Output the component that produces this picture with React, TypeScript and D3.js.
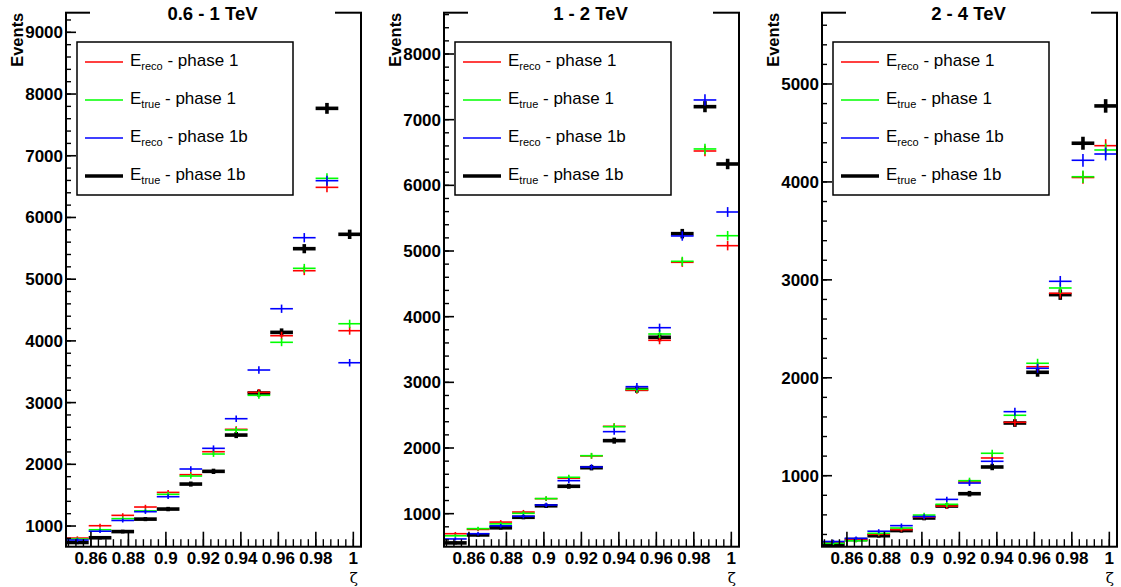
import React from 'react';
import * as d3 from 'd3';

// ---------- data ----------
const panelTitles = ['0.6 - 1 TeV', '1 - 2 TeV', '2 - 4 TeV'];
const xTickLabels = ['0.86', '0.88', '0.9', '0.92', '0.94', '0.96', '0.98', '1'];
const xTickValues = [0.86, 0.88, 0.9, 0.92, 0.94, 0.96, 0.98, 1.0];

// 13 zeta bins per panel
const recoPhase1_A = [805, 1005, 1173, 1308, 1545, 1832, 2204, 2567, 3166, 4084, 5137, 6488, 4165];
const truePhase1_A = [789, 940, 1120, 1245, 1514, 1810, 2167, 2556, 3118, 3977, 5176, 6634, 4278];
const recoPhase1b_A = [773, 916, 1090, 1232, 1475, 1924, 2259, 2739, 3528, 4521, 5672, 6596, 3646];
const truePhase1b_A = [733, 810, 910, 1112, 1275, 1680, 1886, 2474, 3155, 4138, 5494, 7768, 5727];

const recoPhase1_B = [695, 760, 872, 1025, 1228, 1540, 1879, 2330, 2879, 3640, 4828, 6523, 5081];
const truePhase1_B = [663, 772, 845, 1005, 1230, 1554, 1883, 2325, 2894, 3736, 4843, 6554, 5233];
const recoPhase1b_B = [615, 695, 815, 960, 1132, 1503, 1711, 2249, 2934, 3832, 5229, 7300, 5594];
const truePhase1b_B = [555, 676, 785, 945, 1120, 1417, 1700, 2112, 2894, 3686, 5264, 7198, 6325];

const recoPhase1_C = [320, 345, 402, 449, 578, 690, 936, 1181, 1545, 2113, 2863, 4045, 4370];
const truePhase1_C = [310, 336, 412, 466, 598, 708, 949, 1229, 1617, 2148, 2917, 4053, 4326];
const recoPhase1b_C = [328, 360, 433, 490, 583, 758, 925, 1147, 1654, 2097, 2985, 4221, 4285];
const truePhase1b_C = [300, 348, 387, 440, 568, 690, 816, 1089, 1538, 2056, 2849, 4395, 4776];

const yTickMax = [9000, 8000, 5000];

// ---------- layout ----------
const W = 1121;
const H = 587;
const panelLeft = [66, 444, 822];
const panelW = 295;
const plotTop = 12.7;
const plotBottom = 546.7;
const yDomains: [number, number][] = [[665, 9318], [497, 8629], [275, 5728]];
const zetaDomain: [number, number] = [0.8467, 1.0041];
const nBins = 13;

const FONT = '"Liberation Sans", Arial, Helvetica, sans-serif';

type Series = { key: string; sub: string; tail: string; color: string; width: number; values: number[] };

function panelSeries(p: number): Series[] {
  const sets = [
    [recoPhase1_A, truePhase1_A, recoPhase1b_A, truePhase1b_A],
    [recoPhase1_B, truePhase1_B, recoPhase1b_B, truePhase1b_B],
    [recoPhase1_C, truePhase1_C, recoPhase1b_C, truePhase1b_C],
  ][p];
  return [
    { key: 'r1', sub: 'reco', tail: ' - phase 1', color: '#ff0000', width: 1.6, values: sets[0] },
    { key: 't1', sub: 'true', tail: ' - phase 1', color: '#00ff00', width: 1.6, values: sets[1] },
    { key: 'r1b', sub: 'reco', tail: ' - phase 1b', color: '#0000ff', width: 1.6, values: sets[2] },
    { key: 't1b', sub: 'true', tail: ' - phase 1b', color: '#000000', width: 3.6, values: sets[3] },
  ];
}

function Panel({ p }: { p: number }) {
  const x0 = panelLeft[p];
  const x1 = x0 + panelW;
  const x = d3.scaleLinear().domain(zetaDomain).range([x0, x1]);
  const y = d3.scaleLinear().domain(yDomains[p]).range([plotBottom, plotTop]);
  const binW = (zetaDomain[1] - zetaDomain[0]) / nBins;
  const series = panelSeries(p);
  const drawOrder = [series[3], series[0], series[1], series[2]];

  const minorX: number[] = [];
  for (let k = Math.ceil(zetaDomain[0] / 0.004); k <= Math.floor(zetaDomain[1] / 0.004); k++) minorX.push(k * 0.004);
  const majorY: number[] = d3.range(1000, yTickMax[p] + 1, 1000);
  const minorY: number[] = [];
  for (let v = Math.ceil(yDomains[p][0] / 200) * 200; v <= yDomains[p][1]; v += 200) minorY.push(v);

  return (
    <g>
      {/* data */}
      {drawOrder.map((s) => (
        <g key={s.key} stroke={s.color} strokeWidth={s.width}>
          {s.values.map((v, i) => {
            const lo = zetaDomain[0] + i * binW;
            const hi = lo + binW;
            const cx = x((lo + hi) / 2);
            const err = Math.sqrt(v);
            return (
              <g key={i}>
                <line x1={x(lo)} x2={x(hi)} y1={y(v)} y2={y(v)} />
                <line x1={cx} x2={cx} y1={y(v - err)} y2={y(v + err)} />
              </g>
            );
          })}
        </g>
      ))}

      {/* frame */}
      <rect x={x0} y={plotTop} width={panelW} height={plotBottom - plotTop} fill="none" stroke="#000" strokeWidth={2} />

      {/* x ticks */}
      {minorX.map((t, i) => (
        <line key={'mx' + i} x1={x(t)} x2={x(t)} y1={plotBottom} y2={plotBottom - 7.5} stroke="#000" strokeWidth={1.4} />
      ))}
      {xTickValues.map((t, i) => (
        <g key={'Mx' + i}>
          <line x1={x(t)} x2={x(t)} y1={plotBottom} y2={plotBottom - 15} stroke="#000" strokeWidth={1.6} />
          <text x={x(t)} y={564} textAnchor="middle" fontFamily={FONT} fontWeight="bold" fontSize={17}>
            {xTickLabels[i]}
          </text>
        </g>
      ))}

      {/* y ticks */}
      {minorY.map((t, i) => (
        <line key={'my' + i} x1={x0} x2={x0 + 5} y1={y(t)} y2={y(t)} stroke="#000" strokeWidth={1.4} />
      ))}
      {majorY.map((t, i) => (
        <g key={'My' + i}>
          <line x1={x0} x2={x0 + 10} y1={y(t)} y2={y(t)} stroke="#000" strokeWidth={1.6} />
          <text x={x0 - 3} y={y(t) + 6} textAnchor="end" fontFamily={FONT} fontWeight="bold" fontSize={17}>
            {t}
          </text>
        </g>
      ))}

      {/* axis titles */}
      <text
        transform={`translate(${x0 - 43},${plotTop}) rotate(-90)`}
        textAnchor="end"
        fontFamily={FONT}
        fontWeight="bold"
        fontSize={16.5}
      >
        Events
      </text>
      <text x={x1 - 3} y={583} textAnchor="end" fontFamily='"DejaVu Serif", serif' fontSize={15}>
        ζ
      </text>

      {/* title */}
      <rect x={x0 + 24} y={0} width={245} height={plotTop + 2} fill="#fff" />
      <text x={x0 + 146.5} y={20} textAnchor="middle" fontFamily={FONT} fontWeight="bold" fontSize={18.5}>
        {panelTitles[p]}
      </text>

      {/* legend */}
      <rect x={x0 + 11} y={42} width={216} height={153} fill="#fff" stroke="#000" strokeWidth={1.5} />
      {series.map((s, i) => {
        const ly = 62 + i * 38;
        return (
          <g key={'lg' + s.key}>
            <line x1={x0 + 19} x2={x0 + 57} y1={ly} y2={ly} stroke={s.color} strokeWidth={s.width} />
            <text x={x0 + 64} y={ly + 4} fontFamily={FONT} fontSize={17}>
              E
              <tspan fontSize={11} dy={4}>{s.sub}</tspan>
              <tspan dy={-4}>{s.tail}</tspan>
            </text>
          </g>
        );
      })}
    </g>
  );
}

export default function App() {
  return (
    <svg
      width={W}
      height={H}
      viewBox={`0 0 ${W} ${H}`}
      style={{ position: 'absolute', left: 0, top: 0, background: '#fff' }}
    >
      <rect x={0} y={0} width={W} height={H} fill="#fff" />
      {[0, 1, 2].map((p) => (
        <Panel key={p} p={p} />
      ))}
    </svg>
  );
}
